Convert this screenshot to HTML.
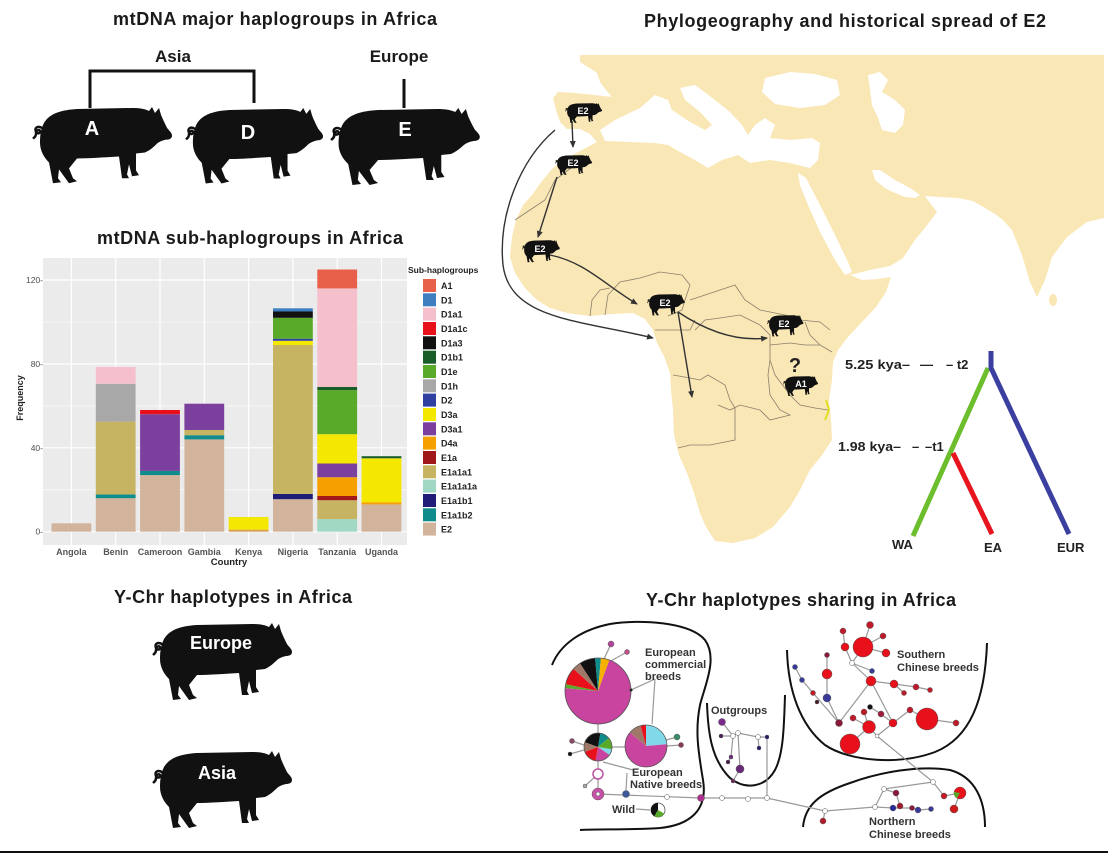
<!DOCTYPE html>
<html><head><meta charset="utf-8"><style>
html,body{margin:0;padding:0;background:#fff;}
svg{display:block;font-family:"Liberation Sans",Arial,sans-serif;}
</style></head><body>
<svg width="1108" height="854" viewBox="0 0 1108 854" xmlns="http://www.w3.org/2000/svg">
<defs>
<g id="pig">
<path d="M12,16 C18,6 30,3 45,2 L100,1 C108,1 113,2 117,4 L120,0 L123,6 L127,1 L129,8 C131,13 133,17 135,21 C137,24 140,26 140,29 C140,32 137,33 134,33 C130,34 127,35 124,38 C120,42 117,44 113,46 L104,47 L104,64 L107,69 L100,70 L97,58 L95,68 L97,72 L90,72 L87,50 C70,51 56,52 45,52 L37,62 L41,72 L45,75 L37,77 L27,63 L26,72 L29,76 L21,77 L17,56 C12,51 8,44 8,36 C8,28 9,22 12,16 Z" fill="#111"/>
<path d="M11,22 C6,18 2,21 4,25 C6,28 9,26 8,24 C7,22 4,24 4,27 C4,30 2,31 1,32" fill="none" stroke="#111" stroke-width="2.5"/>
</g>
<marker id="ah" markerWidth="8" markerHeight="8" refX="6" refY="3" orient="auto" markerUnits="userSpaceOnUse">
<path d="M0,0 L7,3 L0,6 Z" fill="#333"/>
</marker>
</defs>

<!-- ===== Top-left: mtDNA major haplogroups ===== -->
<text x="113" y="25" font-size="18" font-weight="bold" fill="#1a1a1a" textLength="324" lengthAdjust="spacing">mtDNA major haplogroups in Africa</text>
<text x="173" y="62" font-size="17" font-weight="bold" fill="#1a1a1a" text-anchor="middle">Asia</text>
<text x="399" y="62" font-size="17" font-weight="bold" fill="#1a1a1a" text-anchor="middle">Europe</text>
<path d="M90,108 L90,71 L254,71 L254,103" fill="none" stroke="#111" stroke-width="3"/>
<path d="M404,79 L404,108" stroke="#111" stroke-width="3"/>
<use href="#pig" transform="translate(32,107) scale(1,0.99)"/>
<use href="#pig" transform="translate(185,108) scale(0.986,0.98)"/>
<use href="#pig" transform="translate(330,108) scale(1.07,1.0)"/>
<text x="92" y="135" font-size="20" font-weight="bold" fill="#fff" text-anchor="middle">A</text>
<text x="248" y="139" font-size="20" font-weight="bold" fill="#fff" text-anchor="middle">D</text>
<text x="405" y="136" font-size="20" font-weight="bold" fill="#fff" text-anchor="middle">E</text>

<!-- ===== mtDNA sub-haplogroups chart ===== -->
<text x="97" y="244" font-size="18" font-weight="bold" fill="#1a1a1a" textLength="306" lengthAdjust="spacing">mtDNA sub-haplogroups in Africa</text>
<rect x="43" y="258" width="364" height="287" fill="#ebebeb"/>
<g stroke="#fff">
<line x1="43" x2="407" y1="489.8" y2="489.8" stroke-width="0.6"/>
<line x1="43" x2="407" y1="405.9" y2="405.9" stroke-width="0.6"/>
<line x1="43" x2="407" y1="322.0" y2="322.0" stroke-width="0.6"/>
<line x1="43" x2="407" y1="531.7" y2="531.7" stroke-width="1.2"/>
<line x1="43" x2="407" y1="447.8" y2="447.8" stroke-width="1.2"/>
<line x1="43" x2="407" y1="363.9" y2="363.9" stroke-width="1.2"/>
<line x1="43" x2="407" y1="280.0" y2="280.0" stroke-width="1.2"/>
<line y1="258" y2="545" x1="71.4" x2="71.4" stroke-width="1.2"/>
<line y1="258" y2="545" x1="115.7" x2="115.7" stroke-width="1.2"/>
<line y1="258" y2="545" x1="160" x2="160" stroke-width="1.2"/>
<line y1="258" y2="545" x1="204.3" x2="204.3" stroke-width="1.2"/>
<line y1="258" y2="545" x1="248.6" x2="248.6" stroke-width="1.2"/>
<line y1="258" y2="545" x1="292.9" x2="292.9" stroke-width="1.2"/>
<line y1="258" y2="545" x1="337.2" x2="337.2" stroke-width="1.2"/>
<line y1="258" y2="545" x1="381.5" x2="381.5" stroke-width="1.2"/>
</g>
<g>
<rect x="51.5" y="523.3" width="39.8" height="8.4" fill="#d2b49c"/>
<rect x="95.8" y="498.1" width="39.8" height="33.6" fill="#d2b49c"/>
<rect x="95.8" y="494.4" width="39.8" height="3.8" fill="#108c8c"/>
<rect x="95.8" y="421.6" width="39.8" height="72.8" fill="#c7b463"/>
<rect x="95.8" y="383.8" width="39.8" height="37.8" fill="#a8a8a8"/>
<rect x="95.8" y="367.0" width="39.8" height="16.8" fill="#f5c0cc"/>
<rect x="140.1" y="475.1" width="39.8" height="56.6" fill="#d2b49c"/>
<rect x="140.1" y="470.9" width="39.8" height="4.2" fill="#108c8c"/>
<rect x="140.1" y="414.2" width="39.8" height="56.7" fill="#7b3f9e"/>
<rect x="140.1" y="410.0" width="39.8" height="4.2" fill="#e8101a"/>
<rect x="184.4" y="439.4" width="39.8" height="92.3" fill="#d2b49c"/>
<rect x="184.4" y="435.2" width="39.8" height="4.2" fill="#108c8c"/>
<rect x="184.4" y="430.0" width="39.8" height="5.2" fill="#c7b463"/>
<rect x="184.4" y="403.7" width="39.8" height="26.3" fill="#7b3f9e"/>
<rect x="228.7" y="529.6" width="39.8" height="2.1" fill="#d8a050"/>
<rect x="228.7" y="517.0" width="39.8" height="12.6" fill="#f5e800"/>
<rect x="273.0" y="499.2" width="39.8" height="32.5" fill="#d2b49c"/>
<rect x="273.0" y="493.9" width="39.8" height="5.3" fill="#201c78"/>
<rect x="273.0" y="345.0" width="39.8" height="148.9" fill="#c7b463"/>
<rect x="273.0" y="340.8" width="39.8" height="4.2" fill="#f5e800"/>
<rect x="273.0" y="338.7" width="39.8" height="2.1" fill="#3040a0"/>
<rect x="273.0" y="317.8" width="39.8" height="20.9" fill="#5aaa2a"/>
<rect x="273.0" y="311.5" width="39.8" height="6.3" fill="#111"/>
<rect x="273.0" y="308.3" width="39.8" height="3.2" fill="#3f7fbf"/>
<rect x="317.3" y="519.1" width="39.8" height="12.6" fill="#a0d8c4"/>
<rect x="317.3" y="500.2" width="39.8" height="18.9" fill="#c7b463"/>
<rect x="317.3" y="496.0" width="39.8" height="4.2" fill="#a01818"/>
<rect x="317.3" y="477.2" width="39.8" height="18.8" fill="#f5a000"/>
<rect x="317.3" y="463.5" width="39.8" height="13.7" fill="#7b3f9e"/>
<rect x="317.3" y="434.2" width="39.8" height="29.3" fill="#f5e800"/>
<rect x="317.3" y="390.1" width="39.8" height="44.1" fill="#5aaa2a"/>
<rect x="317.3" y="387.0" width="39.8" height="3.1" fill="#1a5c2a"/>
<rect x="317.3" y="288.4" width="39.8" height="98.6" fill="#f5c0cc"/>
<rect x="317.3" y="269.5" width="39.8" height="18.9" fill="#e8604a"/>
<rect x="361.6" y="504.4" width="39.8" height="27.3" fill="#d2b49c"/>
<rect x="361.6" y="502.3" width="39.8" height="2.1" fill="#f5a000"/>
<rect x="361.6" y="458.3" width="39.8" height="44.0" fill="#f5e800"/>
<rect x="361.6" y="456.2" width="39.8" height="2.1" fill="#1a5c2a"/>
</g>
<g font-size="8.5" fill="#4d4d4d" text-anchor="end">
<text x="43" y="534.7">0-</text>
<text x="43" y="450.8">40-</text>
<text x="43" y="366.9">80-</text>
<text x="43" y="283.0">120-</text>
</g>
<g font-size="9" font-weight="bold" fill="#555" text-anchor="middle">
<text x="71.4" y="555">Angola</text>
<text x="115.7" y="555">Benin</text>
<text x="160" y="555">Cameroon</text>
<text x="204.3" y="555">Gambia</text>
<text x="248.6" y="555">Kenya</text>
<text x="292.9" y="555">Nigeria</text>
<text x="337.2" y="555">Tanzania</text>
<text x="381.5" y="555">Uganda</text>
</g>
<text x="229" y="565" font-size="9.5" font-weight="bold" fill="#222" text-anchor="middle">Country</text>
<text transform="translate(23,398) rotate(-90)" font-size="9" font-weight="bold" fill="#222" text-anchor="middle">Frequency</text>
<text x="408" y="273" font-size="8.5" font-weight="bold" fill="#222">Sub-haplogroups</text>
<g>
<rect x="423" y="279" width="13" height="13" fill="#e8604a"/>
<rect x="423" y="293.3" width="13" height="13" fill="#3f7fbf"/>
<rect x="423" y="307.7" width="13" height="13" fill="#f5c0cc"/>
<rect x="423" y="322" width="13" height="13" fill="#e8101a"/>
<rect x="423" y="336.3" width="13" height="13" fill="#111"/>
<rect x="423" y="350.7" width="13" height="13" fill="#1a5c2a"/>
<rect x="423" y="365" width="13" height="13" fill="#5aaa2a"/>
<rect x="423" y="379.3" width="13" height="13" fill="#a8a8a8"/>
<rect x="423" y="393.6" width="13" height="13" fill="#3040a0"/>
<rect x="423" y="408" width="13" height="13" fill="#f5e800"/>
<rect x="423" y="422.3" width="13" height="13" fill="#7b3f9e"/>
<rect x="423" y="436.6" width="13" height="13" fill="#f5a000"/>
<rect x="423" y="451" width="13" height="13" fill="#a01818"/>
<rect x="423" y="465.3" width="13" height="13" fill="#c7b463"/>
<rect x="423" y="479.6" width="13" height="13" fill="#a0d8c4"/>
<rect x="423" y="494" width="13" height="13" fill="#201c78"/>
<rect x="423" y="508.3" width="13" height="13" fill="#108c8c"/>
<rect x="423" y="522.6" width="13" height="13" fill="#d2b49c"/>
</g>
<g font-size="9" font-weight="bold" fill="#222">
<text x="441" y="289">A1</text>
<text x="441" y="303.3">D1</text>
<text x="441" y="317.7">D1a1</text>
<text x="441" y="332">D1a1c</text>
<text x="441" y="346.3">D1a3</text>
<text x="441" y="360.7">D1b1</text>
<text x="441" y="375">D1e</text>
<text x="441" y="389.3">D1h</text>
<text x="441" y="403.6">D2</text>
<text x="441" y="418">D3a</text>
<text x="441" y="432.3">D3a1</text>
<text x="441" y="446.6">D4a</text>
<text x="441" y="461">E1a</text>
<text x="441" y="475.3">E1a1a1</text>
<text x="441" y="489.6">E1a1a1a</text>
<text x="441" y="504">E1a1b1</text>
<text x="441" y="518.3">E1a1b2</text>
<text x="441" y="532.6">E2</text>
</g>

<!-- ===== Map ===== -->
<text x="644" y="27" font-size="18" font-weight="bold" fill="#1a1a1a" textLength="402" lengthAdjust="spacing">Phylogeography and historical spread of E2</text>
<path fill="#fae7b6" d="M580,55 L1104,55 L1104,218 L1087,222 L1067,237 L1052,257 L1045,280 L1037,297 L1030,282 L1022,255 L1012,230 L1003,220 L995,214 L985,208 L973,201 L958,198 L940,197 L925,196 L930,203 L937,212 L928,224 L915,240 L903,258 L890,266 L870,270 L850,275 L862,280 L878,279 L891,277 L886,292 L876,307 L862,322 L848,337 L838,350 L833,362 L832,380 L829,400 L831,420 L832,440 L822,455 L810,470 L800,490 L790,507 L773,527 L755,538 L733,543 L715,541 L706,527 L700,513 L694,493 L687,473 L679,455 L674,435 L673,410 L671,390 L670,373 L664,356 L657,343 L653,330 L645,319 L633,313 L612,314 L590,316 L567,313 L550,308 L537,300 L525,288 L515,273 L510,257 L512,237 L516,220 L523,205 L532,195 L542,181 L553,168 L567,158 L582,150 L597,142 L590,134 L580,129 L567,129 L560,122 L556,110 L553,98 L558,92 L575,93 L595,95 L612,97 L606,90 L600,82 L597,73 L588,67 L580,62 Z"/>
<g fill="#fff">
<path d="M600,130 L615,120 L640,108 L655,95 L668,100 L672,110 L690,122 L705,130 L712,125 L700,112 L685,100 L680,88 L695,85 L715,100 L730,112 L742,125 L748,135 L755,125 L765,118 L775,125 L770,138 L790,140 L812,138 L820,143 L818,160 L810,168 L790,163 L770,160 L750,163 L738,155 L722,160 L708,168 L695,160 L680,152 L668,145 L655,143 L630,142 L605,141 Z"/>
<path d="M765,78 L790,72 L815,74 L837,80 L840,95 L825,105 L800,108 L775,104 L762,92 Z"/>
<path d="M868,75 L880,72 L888,80 L882,92 L895,100 L905,110 L903,125 L895,133 L882,130 L878,118 L872,105 L870,90 Z"/>
<path d="M798,173 L806,178 L820,205 L835,235 L848,262 L852,272 L845,275 L835,260 L820,232 L808,205 L800,185 Z"/>
<path d="M872,170 L880,170 L895,180 L910,188 L920,195 L915,198 L905,197 L895,193 L885,188 L875,180 Z"/>
</g>
<ellipse cx="1053" cy="300" rx="4" ry="6" fill="#fae7b6"/>
<g fill="none" stroke="#8a7f6a" stroke-width="0.8">
<polyline points="605,315 608,295 620,282 640,278 660,272 682,275 690,285 685,300 682,310 668,316"/>
<polyline points="655,330 675,330 690,330 695,320"/>
<polyline points="690,300 720,290 735,285 745,300 760,310 785,315 800,320 820,322 830,330"/>
<polyline points="695,330 705,320 720,318 740,315 760,325 770,335 770,360 768,375 770,395 780,410 790,415 770,420 760,410 740,405 730,410 718,405"/>
<polyline points="673,375 690,378 700,380 708,375 725,385 730,400 735,408 735,440 720,443 710,445 690,445 678,448"/>
<polyline points="770,345 790,343 805,345 820,345 832,352"/>
<polyline points="770,360 775,375 790,395 800,405 815,408 828,410"/>
<polyline points="805,322 810,335 820,345"/>
<polyline points="515,220 530,210 545,200 555,180 575,165"/>
<polyline points="590,316 592,300 600,290 610,288"/>
</g>
<path d="M826,400 L829,410 L825,420" stroke="#e0e020" stroke-width="2" fill="none"/>
<g fill="none" stroke="#333" stroke-width="1.4" marker-end="url(#ah)">
<path d="M572,121 L573,147"/>
<path d="M557,177 L538,237"/>
<path d="M550,255 C585,262 605,285 637,304"/>
<path d="M555,130 C520,160 498,215 503,265 C510,320 580,320 653,338"/>
<path d="M678,312 L692,397"/>
<path d="M678,312 C705,330 735,342 767,338"/>
</g>
<g>
<use href="#pig" transform="translate(565,103) scale(0.265,0.26)"/>
<use href="#pig" transform="translate(555,155) scale(0.265,0.26)"/>
<use href="#pig" transform="translate(522,240) scale(0.27,0.29)"/>
<use href="#pig" transform="translate(647,294) scale(0.27,0.28)"/>
<use href="#pig" transform="translate(767,315) scale(0.26,0.28)"/>
<use href="#pig" transform="translate(783,376) scale(0.25,0.26)"/>
</g>
<g font-size="9" font-weight="bold" fill="#fff" text-anchor="middle">
<text x="583" y="114">E2</text>
<text x="573" y="166">E2</text>
<text x="540" y="252">E2</text>
<text x="665" y="306">E2</text>
<text x="784" y="327">E2</text>
<text x="801" y="387">A1</text>
</g>
<text x="795" y="372" font-size="20" font-weight="bold" fill="#222" text-anchor="middle">?</text>
<g fill="none" stroke-width="5" stroke-linecap="butt">
<path d="M988,368 L913,536" stroke="#6cbe2c"/>
<path d="M953,453 L992,534" stroke="#e8141e"/>
<path d="M991,351 L991,368 L1069,534" stroke="#3a3fa0"/>
</g>
<g font-size="13" font-weight="bold" fill="#222">
<text x="845" y="369" textLength="65" lengthAdjust="spacingAndGlyphs">5.25 kya–</text>
<text x="920" y="369">—</text>
<text x="946" y="369">– t2</text>
<text x="838" y="451" textLength="63" lengthAdjust="spacingAndGlyphs">1.98 kya–</text>
<text x="912" y="451">–</text>
<text x="925" y="451">–t1</text>
<text x="892" y="549">WA</text>
<text x="984" y="552">EA</text>
<text x="1057" y="552">EUR</text>
</g>

<!-- ===== Y-Chr haplotypes in Africa ===== -->
<text x="114" y="603" font-size="18" font-weight="bold" fill="#1a1a1a" textLength="238" lengthAdjust="spacing">Y-Chr haplotypes in Africa</text>
<use href="#pig" transform="translate(152,623) scale(1.0,1.0)"/>
<use href="#pig" transform="translate(152,751) scale(1.0,1.0)"/>
<text x="221" y="649" font-size="18" font-weight="bold" fill="#fff" text-anchor="middle">Europe</text>
<text x="217" y="779" font-size="18" font-weight="bold" fill="#fff" text-anchor="middle">Asia</text>

<!-- ===== Y-Chr network ===== -->
<text x="646" y="606" font-size="18" font-weight="bold" fill="#1a1a1a" textLength="310" lengthAdjust="spacing">Y-Chr haplotypes sharing in Africa</text>
<g fill="none" stroke="#111" stroke-width="2">
<path d="M552,665 C560,645 580,630 610,624 C640,619 690,622 705,640 C718,658 705,685 700,705 C695,730 698,750 703,780 C708,810 690,825 660,828 C630,830 600,829 580,830"/>
<path d="M707,703 C708,735 712,760 730,778 C745,790 765,788 775,770 C783,755 784,730 785,695"/>
<path d="M787,650 C788,690 800,725 825,745 C850,762 900,765 935,752 C970,738 985,700 987,643"/>
<path d="M803,827 C805,805 820,793 850,783 C880,772 920,765 950,770 C975,777 985,800 985,827"/>
</g>
<g fill="none" stroke="#999" stroke-width="1.2">
<path d="M598,794 L701,798 L767,798 L825,811 L875,807"/>
<path d="M598,761 L598,788 M598,733 L598,724 M612,747 L625,747"/>
<path d="M603,762 L633,770 M627,773 L626,790 M655,679 L631,690 M655,679 L652,724 M636,809 L650,810"/>
<path d="M611,644 L604,659 M627,652 L609,662 M572,741 L584,745 M570,754 L584,750 M677,737 L666,740 M681,745 L667,746 M585,786 L598,774"/>
<path d="M722,722 L733,736 M721,736 L733,736 L738,733 L758,737 L767,737 L767,798 M758,737 L759,748 M738,733 L740,769 M733,736 L731,757 L728,762 M740,769 L733,781"/>
<path d="M795,667 L802,680 L813,693 L839,723 M827,698 L839,723 M827,655 L827,698 M839,723 L871,681 L893,723 M852,663 L871,681 M843,631 L845,647 L852,663 M870,625 L863,647 M883,636 L863,647 M886,653 L863,647 L852,663 M852,663 L872,671 M871,681 L894,684 L916,687 L930,690 M894,684 L904,693 M893,723 L910,710 L927,719 L956,723 M893,723 L881,714 L870,707 M893,723 L877,736 M869,727 L877,736 M869,727 L864,712 M869,727 L853,718 M850,744 L869,727 M877,736 L933,782"/>
<path d="M875,807 L884,789 L933,782 M884,789 L896,793 L900,806 M875,807 L893,808 L912,808 L918,810 L931,809 M933,782 L944,796 L960,793 M960,793 L954,809 M825,811 L823,821"/>
</g>
<g stroke="none">
<path d="M598,691 L609.3,660.0 A33,33 0 1 1 565.1,688.1 Z" fill="#c8449e"/>
<path d="M598,691 L565.1,688.1 A33,33 0 0 1 565.7,684.1 Z" fill="#5aaa2a"/>
<path d="M598,691 L565.7,684.1 A33,33 0 0 1 573.5,668.9 Z" fill="#e8101a"/>
<path d="M598,691 L573.5,668.9 A33,33 0 0 1 580.0,663.3 Z" fill="#a07868"/>
<path d="M598,691 L580.0,663.3 A33,33 0 0 1 595.1,658.1 Z" fill="#111"/>
<path d="M598,691 L595.1,658.1 A33,33 0 0 1 600.9,658.1 Z" fill="#108c8c"/>
<path d="M598,691 L600.9,658.1 A33,33 0 0 1 609.3,660.0 Z" fill="#f5b000"/>
</g>
<circle cx="598" cy="691" r="33" fill="none" stroke="#555" stroke-width="0.8"/>
<g>
<path d="M646,746 L646,725 A21,21 0 0 1 666.9,744.2 Z" fill="#80d8e8"/>
<path d="M646,746 L666.9,744.2 A21,21 0 1 1 629.9,732.5 Z" fill="#c8449e"/>
<path d="M646,746 L629.9,732.5 A21,21 0 0 1 640.6,725.7 Z" fill="#a07868"/>
<path d="M646,746 L640.6,725.7 A21,21 0 0 1 646,725 Z" fill="#e8101a"/>
</g>
<circle cx="646" cy="746" r="21" fill="none" stroke="#555" stroke-width="0.8"/>
<g>
<path d="M598,747 L584.8,742.2 A14,14 0 0 1 600.4,733.2 Z" fill="#111"/>
<path d="M598,747 L600.4,733.2 A14,14 0 0 1 608.7,738.0 Z" fill="#108c8c"/>
<path d="M598,747 L608.7,738.0 A14,14 0 0 1 611.8,749.4 Z" fill="#5aaa2a"/>
<path d="M598,747 L611.8,749.4 A14,14 0 0 1 609.5,755.0 Z" fill="#80d8e8"/>
<path d="M598,747 L609.5,755.0 A14,14 0 0 1 595.6,760.8 Z" fill="#c8449e"/>
<path d="M598,747 L595.6,760.8 A14,14 0 0 1 584.8,751.8 Z" fill="#e8101a"/>
<path d="M598,747 L584.8,751.8 A14,14 0 0 1 584.8,742.2 Z" fill="#a07868"/>
</g>
<circle cx="598" cy="747" r="14" fill="none" stroke="#555" stroke-width="0.8"/>
<circle cx="658" cy="810" r="7" fill="#fff" stroke="#555" stroke-width="0.8"/>
<path d="M658,810 L654.5,816.1 A7,7 0 0 1 658,803 Z" fill="#111"/>
<path d="M658,810 L664.1,813.5 A7,7 0 0 1 654.5,816.1 Z" fill="#5aaa2a"/>
<g stroke="#555" stroke-width="0.5">
<circle cx="611" cy="644" r="3" fill="#b0459a"/>
<circle cx="627" cy="652" r="2.5" fill="#c0508a"/>
<circle cx="631" cy="690" r="1.5" fill="#222"/>
<circle cx="572" cy="741" r="2.5" fill="#8a4a6a"/>
<circle cx="570" cy="754" r="2" fill="#111"/>
<circle cx="677" cy="737" r="3" fill="#3a8a6a"/>
<circle cx="681" cy="745" r="2.5" fill="#8a3a5a"/>
<circle cx="598" cy="774" r="5" fill="#fff" stroke="#c050a0" stroke-width="1.5"/>
<circle cx="585" cy="786" r="2" fill="#aaa"/>
<circle cx="598" cy="794" r="6" fill="#c850a8"/>
<circle cx="598" cy="794" r="2" fill="#fff"/>
<circle cx="626" cy="794" r="3.5" fill="#3a5a9a"/>
<circle cx="667" cy="797" r="2.5" fill="#fff"/>
<circle cx="701" cy="798" r="3.5" fill="#b03090"/>
<circle cx="722" cy="798" r="2.5" fill="#fff"/>
<circle cx="748" cy="799" r="2.5" fill="#fff"/>
<circle cx="767" cy="798" r="2.5" fill="#fff"/>
<circle cx="722" cy="722" r="3.5" fill="#7a2a8a"/>
<circle cx="721" cy="736" r="2" fill="#4a1a5a"/>
<circle cx="733" cy="736" r="2.5" fill="#fff"/>
<circle cx="738" cy="733" r="2.5" fill="#fff"/>
<circle cx="758" cy="737" r="2.5" fill="#fff"/>
<circle cx="767" cy="737" r="2" fill="#2a1a6a"/>
<circle cx="759" cy="748" r="2" fill="#2a1a6a"/>
<circle cx="740" cy="769" r="4" fill="#6a2a7a"/>
<circle cx="728" cy="762" r="2" fill="#4a1a4a"/>
<circle cx="733" cy="781" r="2" fill="#6a2a5a"/>
<circle cx="731" cy="757" r="2" fill="#6a2a7a"/>
<circle cx="795" cy="667" r="2.5" fill="#3a3a9a"/>
<circle cx="802" cy="680" r="2.5" fill="#3a3a9a"/>
<circle cx="813" cy="693" r="2.5" fill="#c01a2a"/>
<circle cx="817" cy="702" r="2" fill="#4a1a2a"/>
<circle cx="863" cy="647" r="10" fill="#e8101a"/>
<circle cx="870" cy="625" r="3.5" fill="#c01a2a"/>
<circle cx="883" cy="636" r="3" fill="#c01a2a"/>
<circle cx="886" cy="653" r="4" fill="#e8101a"/>
<circle cx="845" cy="647" r="4" fill="#e8101a"/>
<circle cx="843" cy="631" r="3" fill="#c01a2a"/>
<circle cx="871" cy="681" r="5" fill="#e8101a"/>
<circle cx="894" cy="684" r="4" fill="#e8101a"/>
<circle cx="916" cy="687" r="3" fill="#c01a2a"/>
<circle cx="930" cy="690" r="2.5" fill="#c01a2a"/>
<circle cx="904" cy="693" r="2.5" fill="#c01a2a"/>
<circle cx="893" cy="723" r="4" fill="#e8101a"/>
<circle cx="910" cy="710" r="3" fill="#c01a2a"/>
<circle cx="927" cy="719" r="11" fill="#e8101a"/>
<circle cx="956" cy="723" r="3" fill="#c01a2a"/>
<circle cx="869" cy="727" r="6.5" fill="#e8101a"/>
<circle cx="850" cy="744" r="10" fill="#e8101a"/>
<circle cx="853" cy="718" r="3" fill="#c01a2a"/>
<circle cx="864" cy="712" r="3" fill="#c01a2a"/>
<circle cx="870" cy="707" r="2.5" fill="#111"/>
<circle cx="881" cy="714" r="3" fill="#a01a3a"/>
<circle cx="839" cy="723" r="3.5" fill="#8a1a3a"/>
<circle cx="827" cy="698" r="4" fill="#3a3a9a"/>
<circle cx="827" cy="674" r="5" fill="#e8101a"/>
<circle cx="827" cy="655" r="2.5" fill="#8a1a3a"/>
<circle cx="872" cy="671" r="2.5" fill="#3a3a9a"/>
<circle cx="852" cy="663" r="2.5" fill="#fff"/>
<circle cx="877" cy="736" r="2" fill="#fff"/>
<circle cx="933" cy="782" r="2.5" fill="#fff"/>
<circle cx="884" cy="789" r="2.5" fill="#fff"/>
<circle cx="896" cy="793" r="3" fill="#8a1a3a"/>
<circle cx="900" cy="806" r="3" fill="#a01a2a"/>
<circle cx="893" cy="808" r="3" fill="#2a2a9a"/>
<circle cx="875" cy="807" r="2.5" fill="#fff"/>
<circle cx="912" cy="808" r="2.5" fill="#8a1a3a"/>
<circle cx="918" cy="810" r="3" fill="#3a3a9a"/>
<circle cx="931" cy="809" r="2.5" fill="#3a3a9a"/>
<circle cx="944" cy="796" r="3" fill="#c01a2a"/>
<circle cx="960" cy="793" r="6" fill="#e8101a"/>
<circle cx="954" cy="809" r="4" fill="#d01a1a"/>
<circle cx="825" cy="811" r="2.5" fill="#fff"/>
<circle cx="823" cy="821" r="3" fill="#b01a2a"/>
</g>
<path d="M960,793 L957,798 A6,6 0 0 1 954,792 Z" fill="#5aaa2a"/>
<g font-size="11" font-weight="bold" fill="#333">
<text x="645" y="656">European</text>
<text x="645" y="668">commercial</text>
<text x="645" y="680">breeds</text>
<text x="632" y="776">European</text>
<text x="630" y="788">Native breeds</text>
<text x="612" y="813">Wild</text>
<text x="711" y="714">Outgroups</text>
<text x="897" y="658">Southern</text>
<text x="897" y="671">Chinese breeds</text>
<text x="869" y="825">Northern</text>
<text x="869" y="838">Chinese breeds</text>
</g>

<line x1="0" y1="852" x2="1108" y2="852" stroke="#111" stroke-width="2"/>
</svg>
</body></html>
